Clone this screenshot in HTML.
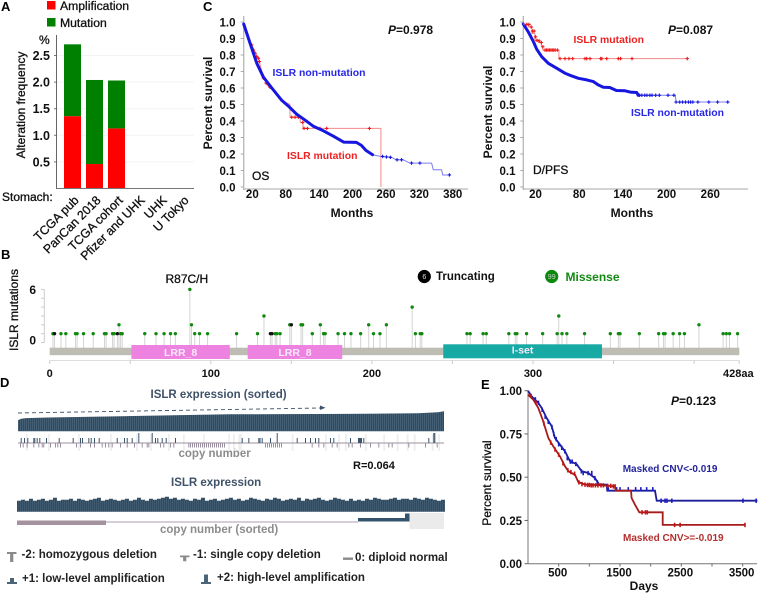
<!DOCTYPE html>
<html lang="en">
<head>
<meta charset="utf-8">
<title>ISLR alteration figure</title>
<style>
html,body{margin:0;padding:0;background:#fff;width:758px;height:594px;overflow:hidden}
svg{display:block;filter:blur(0.3px)}
text{font-family:"Liberation Sans",Arial,sans-serif;fill:#111}
.b{font-weight:bold}
.pl{font-weight:bold;font-size:13px;fill:#000}
.tk{font-weight:bold;font-size:11.5px;text-anchor:end}
.ti{font-weight:bold;font-size:11.5px;text-anchor:middle}
.ax{font-weight:bold;font-size:12px}
.m{font-weight:normal;stroke:#111;stroke-width:.3px}
.blue{font-weight:bold;font-size:10.4px;fill:#2626e6}
.red{font-weight:bold;font-size:10.4px;fill:#ee2222}
.d-t{font-weight:bold;font-size:11.5px;fill:#3f5268}
.d-g{font-weight:bold;font-size:11.5px;fill:#8c8c8c}
.leg{font-weight:bold;font-size:11.5px;fill:#222}
</style>
</head>
<body>
<svg id="fig" xmlns="http://www.w3.org/2000/svg" width="758" height="594" viewBox="0 0 758 594">
<defs>
<pattern id="stripes" width="2" height="4" patternUnits="userSpaceOnUse"><rect width="0.6" height="4" fill="#8fa3b3"/></pattern>
</defs>

<!-- Panel A -->
<g id="panelA">
<text class="pl" x="1" y="11">A</text>
<rect x="47" y="1" width="8.5" height="8.5" fill="#ff0000"/>
<text class="m" x="60" y="10" font-size="12.2">Amplification</text>
<rect x="47" y="18" width="8.5" height="8.5" fill="#008000"/>
<text class="m" x="60" y="27" font-size="12.2">Mutation</text>
<text class="m" x="39" y="44" font-size="12">%</text>
<text class="m" x="0" y="0" transform="translate(25,105) rotate(-90)" text-anchor="middle" font-size="12">Alteration frequency</text>
<text class="m" x="2" y="201" font-size="12">Stomach:</text>
</g>

<!-- Panel C -->
<g id="panelC">
<text class="pl" x="203" y="11">C</text>
<text class="ax" x="0" y="0" transform="translate(212,103) rotate(-90)" text-anchor="middle">Percent survival</text>
<text class="ax" x="352" y="217" text-anchor="middle">Months</text>
<text class="ax" x="388" y="34"><tspan font-style="italic">P</tspan>=0.978</text>
<text class="blue" x="272.5" y="76">ISLR non-mutation</text>
<text class="red" x="287" y="159">ISLR mutation</text>
<text class="ax m" x="252" y="180" font-size="12">OS</text>
</g>

<!-- Panel C2 -->
<g id="panelP">
<text class="ax" x="0" y="0" transform="translate(492,112) rotate(-90)" text-anchor="middle">Percent survival</text>
<text class="ax" x="632" y="217" text-anchor="middle">Months</text>
<text class="ax" x="668" y="34"><tspan font-style="italic">P</tspan>=0.087</text>
<text class="red" x="573.5" y="43">ISLR mutation</text>
<text class="blue" x="631" y="116">ISLR non-mutation</text>
<text class="ax m" x="533" y="174">D/PFS</text>
</g>

<!-- Panel B -->
<g id="panelB">
<text class="pl" x="1" y="259">B</text>
<text class="ax m" x="0" y="0" transform="translate(18,310) rotate(-90)" text-anchor="middle">ISLR mutations</text>
<text class="m" x="165.5" y="283" font-size="12">R87C/H</text>
<circle cx="424.3" cy="276.5" r="6.6" fill="#000"/>
<text x="424.3" y="279" font-size="7" text-anchor="middle" style="fill:#ddd">6</text>
<text x="436" y="280" font-size="11.5" class="b">Truncating</text>
<circle cx="551.7" cy="276.5" r="6.6" fill="#0a8a0a"/>
<text x="551.7" y="279" font-size="7" text-anchor="middle" style="fill:#ccc">99</text>
<text x="565.5" y="281" font-size="12" class="b" style="fill:#128a12">Missense</text>
<text x="723" y="377" font-size="11" class="b">428aa</text>
</g>

<!-- Panel D -->
<g id="panelD">
<text class="pl" x="0" y="387">D</text>
<text class="d-t" x="150.5" y="398">ISLR expression (sorted)</text>
<line x1="18" y1="413" x2="320" y2="408" stroke="#3f5268" stroke-width="0.9" stroke-dasharray="4 3"/>
<path d="M320 405.5 L325.5 407.8 L320 410 Z" fill="#3f5268"/>
<text class="d-g" x="178.5" y="457">copy number</text>
<text class="b" x="353" y="469" font-size="11">R=0.064</text>
<text class="d-t" x="171" y="486">ISLR expression</text>
<line x1="17" y1="522" x2="358" y2="522" stroke="#a99eb0" stroke-width="1"/>
<rect x="17" y="520.5" width="89" height="4.5" fill="#a4939f"/>
<rect x="358" y="518" width="47" height="3.5" fill="#35536c"/>
<rect x="405" y="513.5" width="4.5" height="8" fill="#35536c"/>
<rect x="409.5" y="513" width="34.5" height="16" fill="#ebebeb"/>
<text class="d-g" x="160" y="533">copy number (sorted)</text>

<path d="M7 552 h9.5 v2 h-3.2 v8 h-3.2 v-8 h-3.1 z" fill="#8a8a8a"/>
<text class="leg" x="21.5" y="558">-2: homozygous deletion</text>
<path d="M180 555.5 h9.5 v1.8 h-3.2 v4 h-3.2 v-4 h-3.1 z" fill="#8a8a8a"/>
<text class="leg" x="193" y="558">-1: single copy deletion</text>
<rect x="343" y="557.5" width="10" height="2.4" fill="#8a8a8a"/>
<text class="leg" x="355" y="561">0: diploid normal</text>
<path d="M7 584 h10 v-2 h-3 v-4 h-4 v4 h-3 z" fill="#4b6478"/>
<text class="leg" x="22" y="582">+1: low-level amplification</text>
<path d="M201 584 h10 v-2 h-3 v-7.5 h-4 v7.5 h-3 z" fill="#4b6478"/>
<text class="leg" x="217" y="581">+2: high-level amplification</text>
</g>

<!-- Panel E -->
<g id="panelE">
<text class="pl" x="481" y="389">E</text>
<text class="ax m" x="0" y="0" transform="translate(491,483) rotate(-90)" text-anchor="middle">Percent survival</text>
<text class="ax" x="644" y="590" text-anchor="middle">Days</text>
<text class="ax" x="671" y="405"><tspan font-style="italic">P</tspan>=0.123</text>
<text class="b" x="622.7" y="472" font-size="10" style="fill:#24249a">Masked CNV&lt;-0.019</text>
<text class="b" x="623" y="541" font-size="10" style="fill:#b3302f">Masked CNV&gt;=-0.019</text>
</g>
</svg>

<script>
// ---------- Panel A data ----------
const aCategories = ['TCGA pub','PanCan 2018','TCGA cohort','Pfizer and UHK','UHK','U Tokyo'];
const aAmplification = [1.36,0.46,1.13,0,0,0];
const aMutation = [1.35,1.58,0.90,0,0,0];
const aTicks = [0.5,1.0,1.5,2.0,2.5];

// ---------- Panel C (OS) data ----------
const osBlueMonths = [4.5,16,28,40,55,73,85,100,115,130,148,166,184,207,216,224,236,251,270,279,291,303,342,345,360,362,374];
const osBlueSurvival = [.988,.87,.75,.665,.60,.525,.49,.44,.405,.367,.34,.307,.272,.27,.252,.222,.196,.185,.18,.165,.165,.145,.145,.105,.105,.073,.073];
const osBlueCensorMonths = [254,261,268,280,288,306,321,374];
const osBlueCensorSurvival = [.185,.182,.18,.165,.165,.145,.145,.073];
const osRedMonths = [4.5,19,31,40,52,73,87.7,87.7,106,106,111,111,251,251];
const osRedSurvival = [.988,.86,.78,.66,.605,.525,.50,.423,.423,.391,.391,.355,.355,0];
const osRedCensorMonths = [18.8,21.8,24.8,27.8,30.8,32.6,39.8,44.6,48.7,51.7,90.7,96.7,102.7,110.5,112.9,118.9,141.6,153.6,230.3];
const osRedCensorSurvival = [.861,.83,.81,.79,.78,.76,.66,.63,.619,.605,.423,.423,.423,.391,.355,.355,.355,.355,.355];
const osXTicks = [20,80,140,200,260,320,380];
const survivalTicks = [0,.1,.2,.3,.4,.5,.6,.7,.8,.9,1];

// ---------- Panel C (D/PFS) data ----------
const pfsBlueMonths = [3.2,10,17,21.5,28.4,37.5,51.3,60.4,67.3,78.8,90.2,99.4,106,113,122,131,143,150,159,161,212,213,285];
const pfsBlueSurvival = [.988,.94,.881,.835,.79,.75,.714,.69,.677,.659,.649,.639,.619,.605,.603,.585,.583,.575,.573,.556,.556,.515,.515];
const pfsBlueCensorMonths = [163,166,170,173,177,180,185,190,202,210,213,218,222,226,230,233,236,243,258,270,284];
const pfsBlueCensorSurvival = [.556,.556,.556,.556,.556,.556,.556,.556,.556,.556,.515,.515,.515,.515,.515,.515,.515,.515,.515,.515,.515];
const pfsRedMonths = [3.2,10,10,15,15,19,19,24,24,28,28,30,30,52,52,229];
const pfsRedSurvival = [.988,.988,.97,.97,.93,.93,.885,.885,.875,.875,.85,.85,.83,.83,.778,.778];
const pfsRedCensorMonths = [8,11,14,16,18,20,22,25,28,30,33,35,37,39,41,43,45,47,50,53.6,60.4,65.9,71,87.9,90.2,94.8,109.4,111,117.7,133.7,136.8,152.5,228.4];
const pfsRedCensorSurvival = [.985,.985,.97,.945,.945,.91,.89,.885,.875,.85,.83,.83,.83,.83,.83,.83,.83,.83,.83,.778,.778,.778,.778,.778,.778,.778,.778,.778,.778,.778,.778,.778,.778];
const pfsXTicks = [20,80,140,200,260];

// ---------- Panel B data ----------
const mutPositions = [2,3,7,10,16,17,21,27,34,35,39,40,42,43,44,45,59,66,71,75,78,87,88,90,93,98,116,129,133,137,138,140,141,143,149,150,156,157,163,168,170,171,179,183,187,193,198,201,205,209,225,227,230,231,259,261,269,271,285,289,290,296,306,315,316,318,321,332,348,353,354,366,378,381,382,387,391,394,403,418,420,422,427];
const mutCounts    = [1,1,1,1,1,1,1,1,1,1,1,1,1,2,1,1,1,1,1,1,1,6,2,1,1,1,1,1,3,1,1,1,1,1,2,2,2,2,1,2,1,1,1,1,1,1,2,1,1,2,4,1,1,1,1,1,1,1,1,1,1,1,1,1,3,1,1,1,1,1,1,1,1,1,1,1,1,1,2,1,1,1,1];
const truncatingPositions = [3,42,137,138,150];
const domainNames = ['LRR_8','LRR_8','I-set'];
const domainStarts = [50.7,122.9,244.3];
const domainEnds = [111.8,181.6,342.8];
const domainColors = ['#ee82e0','#ee82e0','#17a9a4'];
const aaTickLabels = [0,100,200,300];
const aaMinorTicks = [0,50,100,150,200,250,300,350,400,428];

// ---------- Panel D data ----------
const sortedIndex = [0,3,8,30,212,330,400,420,426];
const sortedHeight = [11,12.6,13.2,13.8,17,17.4,18,19,20];
const unsortedHeight = [11,12,11,13,11,12,13,11,12,14,11,12,12,13,11,13,12,11,12,13,14,11,12,13,12,11,12,13,11,12,14,12,11,13,12,13,14,15,13,14,12,13,12,11,13,12,14,11,12,13,11,12,13,14,12,13,11,12,14,13,12,11,13,12,14,13,11,12,13,12,14,11,13,12,13,14,12,11,12,14,13,12,11,13,11,12,11,13,12,14,13,12,12,13,14,12,13,13,12,14,13,12,14,13,12,11,12];
const gainIndex = [2.7,6,9.3,15.3,16.3,18.7,21.3,28,40.7,54.7,62,64,70.3,72.7,76,80.7,98.7,106,108.7,113.7,120.3,133.7,137,139.3,143.7,147.7,157,223.7,230.3,240.3,241.5,243.7,252,258.7,278.7,287,292,297,300.3,312,315.3,332,340,341,342,343,345.3,410.3,415.3,416.3];
const gainLevel = [1,1,1,1,1,1,1,1,1,1,1,1,1,1,1,1,1,1,1,1,2,2,1,1,1,1,1,1,1,1,1,1,1,2,1,1,1,1,1,1,1,1,1,1,1,1,1,1,2,2];
const lossIndex = [2,4.7,8.7,15.3,20.3,23.7,25.3,32,37,39.3,42,58,62,72,76,83.7,87,90.3,93.7,102,108.7,116,123.7,128.7,130.3,142,145.3,152,155.3,170.3,172,174,176,178,180,182,184,186,188,190,192,194,196,198,200,202,204,206,247,249,251,253,255,257,259,261,263,293.7,300.3,305.3,313.7,318.7,330.3,333.7,342,352,360.3,370.3,373.7,390.3,407,418.7];
const faintIndex = [210.3,220.3,222,273.7,307,320.3,327,347,365.3,378.7,388.7,395.7,413.7,420.3,8,30,60,92,118,132,150,165,185,215];

// ---------- Panel E data ----------
const eBlueDays = [0,60,168,223,304,386,440,522,603,685,793,875,984,1092,1163,1283,1293,2071,2098,3740];
const eBlueSurvival = [1,.967,.929,.90,.842,.794,.726,.688,.649,.592,.576,.534,.524,.495,.457,.457,.422,.422,.364,.364];
const eBlueCensorDays = [120,170,230,280,330,390,420,460,500,550,600,640,690,720,780,870,900,980,1040,1090,1130,1310,1445,1500,1635,1755,1840,1935,2035,2170,2235,2265,2345,3505,3720];
const eBlueCensorSurvival = [.95,.93,.89,.85,.82,.79,.75,.72,.69,.67,.65,.61,.59,.59,.576,.534,.524,.524,.524,.495,.47,.43,.43,.43,.43,.43,.43,.43,.43,.364,.364,.364,.364,.364,.364];
const eRedDays = [0,87,168,239,332,413,522,603,658,766,820,929,1228,1418,1429,1679,1690,1745,1815,2196,2196,3538];
const eRedSurvival = [.977,.948,.90,.832,.726,.678,.62,.563,.534,.514,.472,.457,.453,.447,.422,.422,.38,.341,.297,.297,.224,.224];
const eRedCensorDays = [50,130,260,370,440,500,570,650,700,760,830,880,930,970,1000,1030,1060,1100,1140,1190,1230,1300,1350,1390,1420,1860,1915,1945,2390,2480,3538];
const eRedCensorSurvival = [.97,.93,.81,.70,.66,.63,.58,.54,.53,.52,.47,.46,.457,.455,.455,.453,.453,.453,.453,.453,.453,.45,.45,.447,.447,.297,.297,.297,.224,.224,.224];
const eXTicks = [500,1000,1500,2000,2500,3000,3500];
const eXLabels = [500,1500,2500,3500];
const eYTicks = [0,.25,.5,.75,1];

// ---------- helpers ----------
const NS = 'http://www.w3.org/2000/svg';
function mk(tag, attrs, parent, txt){
  const e = document.createElementNS(NS, tag);
  for (const k in attrs) e.setAttribute(k, attrs[k]);
  if (txt !== undefined) e.textContent = txt;
  parent.appendChild(e);
  return e;
}
function pts(xs, ys, fx, fy){
  return xs.map((v,i)=>fx(v).toFixed(1)+','+fy(ys[i]).toFixed(1)).join(' ');
}

// ---------- Panel A ----------
(function(){
  const g = document.getElementById('panelA');
  const y = v => 188.5 - v*53.2;
  const cx = i => 72.5 + i*22;
  aTicks.forEach(t=>{
    const gl = mk('line',{x1:57,x2:194,y1:y(t),y2:y(t),stroke:'#f3f3f3','stroke-width':1},g);
    
    
    const tk = mk('line',{x1:54,x2:56.5,y1:y(t),y2:y(t),stroke:'#777','stroke-width':1},g);
    
    
    const lb = mk('text',{x:50,y:y(t)+4.5,'font-weight':'bold','font-size':12.5,'text-anchor':'end'},g,t.toFixed(1));
    
    
  });
  aCategories.forEach((c,i)=>{
    if (aAmplification[i] > 0){
      const r = mk('rect',{x:cx(i)-8.5,width:17,y:y(aAmplification[i]),height:y(0)-y(aAmplification[i]),fill:'#ff0000'},g);
      
      
    }
    if (aMutation[i] > 0){
      const top = aAmplification[i]+aMutation[i];
      const r2 = mk('rect',{x:cx(i)-8.5,width:17,y:y(top),height:y(aAmplification[i])-y(top),fill:'#008000'},g);
      
      
    }
    const lb = mk('text',{class:'m',transform:'translate('+(cx(i)+7)+',201) rotate(-45)','text-anchor':'end','font-size':12.3},g,c);
    
    
  });
  const ya = mk('line',{x1:56.5,x2:56.5,y1:35,y2:189,stroke:'#666','stroke-width':1},g);
  
  
  const xa = mk('line',{x1:56.5,x2:194,y1:188.5,y2:188.5,stroke:'#777','stroke-width':1},g);
  
  
})();

// ---------- survival panels C ----------
function survPanel(id, ax, xEnd, x0, xs, labelRight, ticks, series){
  const g = document.getElementById(id);
  const x = m => x0 + m*xs;
  const y = s => 187 - s*165;
  const ya = mk('line',{x1:ax,x2:ax,y1:16,y2:190,stroke:'#bbb','stroke-width':1.4},g);
  
  
  const xa = mk('line',{x1:ax,x2:xEnd,y1:189,y2:189,stroke:'#aaa','stroke-width':1},g);
  
  
  survivalTicks.forEach(t=>{
    const tk = mk('line',{x1:ax-3,x2:ax,y1:y(t),y2:y(t),stroke:'#aaa','stroke-width':1},g);
    
    
    const lb = mk('text',{class:'tk',x:labelRight,y:y(t)+4.5},g,t.toFixed(1));
    
    
  });
  ticks.forEach(t=>{
    const tk = mk('line',{x1:x(t)+3,x2:x(t)+3,y1:189,y2:192,stroke:'#aaa','stroke-width':1},g);
    
    
    const lb = mk('text',{class:'ti',x:x(t),y:198},g,t);
    
    
  });
  series.forEach(s=>{
    const thin = mk('polyline',{points:pts(s.xs,s.ys,x,y),fill:'none',stroke:s.thin,'stroke-width':s.base,'stroke-linejoin':'round'},g);
    
    
    if (s.thick){
      const tx = s.xs.filter(v=>v<=s.thick);
      const ty = s.ys.slice(0,tx.length);
      const th = mk('polyline',{points:pts(tx,ty,x,y),fill:'none',stroke:s.color,'stroke-width':3,'stroke-linejoin':'round','stroke-linecap':'round'},g);
      
      
    }
    s.cx.forEach((c,i)=>{
      const d = mk('path',{d:'M'+(x(c)-1.7)+' '+y(s.cy[i])+' h3.4 M'+x(c)+' '+(y(s.cy[i])-1.7)+' v3.4',stroke:s.color,'stroke-width':1.1,fill:'none'},g);
      
      
    });
  });
}
survPanel('panelC',243.7,468,241.2,.5567,235.5,osXTicks,[
  {xs:osRedMonths,ys:osRedSurvival,cx:osRedCensorMonths,cy:osRedCensorSurvival,color:'#f01818',thin:'#f28a8a',base:1},
  {xs:osBlueMonths,ys:osBlueSurvival,cx:osBlueCensorMonths,cy:osBlueCensorSurvival,color:'#1616e0',thin:'#7c7cf0',base:1,thick:236}
]);
survPanel('panelP',523.3,748,521,.728,515.5,pfsXTicks,[
  {xs:pfsBlueMonths,ys:pfsBlueSurvival,cx:pfsBlueCensorMonths,cy:pfsBlueCensorSurvival,color:'#1616e0',thin:'#7c7cf0',base:1,thick:161},
  {xs:pfsRedMonths,ys:pfsRedSurvival,cx:pfsRedCensorMonths,cy:pfsRedCensorSurvival,color:'#f01818',thin:'#f28a8a',base:1}
]);

// ---------- Panel B ----------
(function(){
  const g = document.getElementById('panelB');
  const x = a => 49.7 + a*1.611;
  const y = c => 342.5 - c*8.85;
  const ya = mk('line',{x1:44.3,x2:44.3,y1:y(6),y2:y(0),stroke:'#ccc','stroke-width':1},g);
  
  
  [0,1,2,3,4,5,6].forEach(c=>{
    const tk = mk('line',{x1:41,x2:44.3,y1:y(c),y2:y(c),stroke:'#ccc','stroke-width':1},g);
    
    
  });
  [0,6].forEach(c=>{
    const lb = mk('text',{x:36,y:y(c)+(c===0?2:4.5),'font-weight':'bold','font-size':12,'text-anchor':'end'},g,c);
    
    
  });
  mutPositions.forEach((p,i)=>{
    const st = mk('line',{x1:x(p),x2:x(p),y1:y(mutCounts[i]),y2:349,stroke:'#d4d4d4','stroke-width':1},g);
    
    
  });
  const bb = mk('rect',{x:49.7,y:347.7,width:689.6,height:7.5,fill:'#bdbdb4'},g);
  
  
  domainNames.forEach((n,i)=>{
    const r = mk('rect',{x:x(domainStarts[i]),width:x(domainEnds[i])-x(domainStarts[i]),y:i===2?344.3:345,height:14,fill:domainColors[i]},g);
    
    
    const t = mk('text',{x:(x(domainStarts[i])+x(domainEnds[i]))/2,y:i===2?353.5:356,'text-anchor':'middle','font-size':10.5,'font-weight':'bold',style:'fill:#fbe9fb'},g,n);
    
    
  });
  mutPositions.forEach((p,i)=>{
    const d = mk('circle',{cx:x(p),cy:y(mutCounts[i]),r:1.7,fill:truncatingPositions.includes(p)?'#111':'#0f8a0f'},g);
    
    
  });
  const al = mk('line',{x1:49.7,x2:739.3,y1:360.5,y2:360.5,stroke:'#ddd','stroke-width':1},g);
  
  
  aaMinorTicks.forEach(t=>{
    const tk = mk('line',{x1:x(t),x2:x(t),y1:360.5,y2:364,stroke:'#ccc','stroke-width':1},g);
    
    
  });
  aaTickLabels.forEach(t=>{
    const lb = mk('text',{x:x(t),y:377,'text-anchor':'middle','font-size':11,'font-weight':'bold'},g,t);
    
    
  });
})();

// ---------- Panel D ----------
(function(){
  const g = document.getElementById('panelD');
  const x = i => 18 + i;
  const p1 = 'M18 431.3 ' + sortedIndex.map((v,i)=>'L'+x(v)+' '+(431.3-sortedHeight[i])).join(' ') + ' L444 431.3 Z';
  const a = mk('path',{d:p1,fill:'#2f4b62'},g);
  
  
  const a2 = mk('path',{d:p1,fill:'url(#stripes)',opacity:.35},g);
  
  
  faintIndex.forEach(v=>{
    const l = mk('rect',{x:x(v),y:434,width:1.8,height:17,fill:'#eeeeee'},g);
    
    
  });
  const mid = mk('line',{x1:18,x2:444,y1:443,y2:443,stroke:'#9c90a0','stroke-width':1.1},g);
  
  
  lossIndex.forEach(v=>{
    const l = mk('rect',{x:x(v),y:443,width:1,height:4.5,fill:'#9a8f9e'},g);
    
    
  });
  gainIndex.forEach((v,i)=>{
    const h = gainLevel[i]===2 ? 10 : 5;
    const l = mk('rect',{x:x(v),y:443-h,width:1,height:h,fill:'#3b566c'},g);
    
    
  });
  let d2 = 'M17 511.7';
  unsortedHeight.forEach((h,i)=>{ d2 += ' V'+(511.7-h)+' H'+(17+(i+1)*4); });
  d2 += ' V511.7 Z';
  const b = mk('path',{d:d2,fill:'#2f4b62'},g);
  
  
  const b2 = mk('path',{d:d2,fill:'url(#stripes)',opacity:.3},g);
  
  
})();

// ---------- Panel E ----------
(function(){
  const g = document.getElementById('panelE');
  const x = d => 528 + d*.06133;
  const y = s => 563.7 - s*173;
  const ya = mk('line',{x1:528,x2:528,y1:y(1),y2:y(0),stroke:'#777','stroke-width':1},g);
  
  
  const xa = mk('line',{x1:528,x2:757,y1:563.7,y2:563.7,stroke:'#777','stroke-width':1},g);
  
  
  eYTicks.forEach(t=>{
    const tk = mk('line',{x1:524.5,x2:528,y1:y(t),y2:y(t),stroke:'#666','stroke-width':1},g);
    
    
    const lb = mk('text',{class:'tk',x:522,y:y(t)+4.5},g,t.toFixed(2));
    
    
  });
  eXTicks.forEach(t=>{
    const tk = mk('line',{x1:x(t),x2:x(t),y1:563.7,y2:566.5,stroke:'#666','stroke-width':1},g);
    
    
  });
  eXLabels.forEach(t=>{
    const lb = mk('text',{class:'ti',x:x(t)-1,y:576.5},g,t);
    
    
  });
  const pb = mk('polyline',{points:pts(eBlueDays,eBlueSurvival,x,y),fill:'none',stroke:'#1d1d9a','stroke-width':1.8},g);
  
  
  eBlueCensorDays.forEach((d,i)=>{
    const m = mk('line',{x1:x(d),x2:x(d),y1:y(eBlueCensorSurvival[i])-2.2,y2:y(eBlueCensorSurvival[i])+2.2,stroke:'#1d1dc4','stroke-width':1.6},g);
    
    
  });
  const pr = mk('polyline',{points:pts(eRedDays,eRedSurvival,x,y),fill:'none',stroke:'#a81b1b','stroke-width':1.8},g);
  
  
  eRedCensorDays.forEach((d,i)=>{
    const m = mk('line',{x1:x(d),x2:x(d),y1:y(eRedCensorSurvival[i])-2.2,y2:y(eRedCensorSurvival[i])+2.2,stroke:'#c01616','stroke-width':1.6},g);
    
    
  });
})();
</script>
</body>
</html>
